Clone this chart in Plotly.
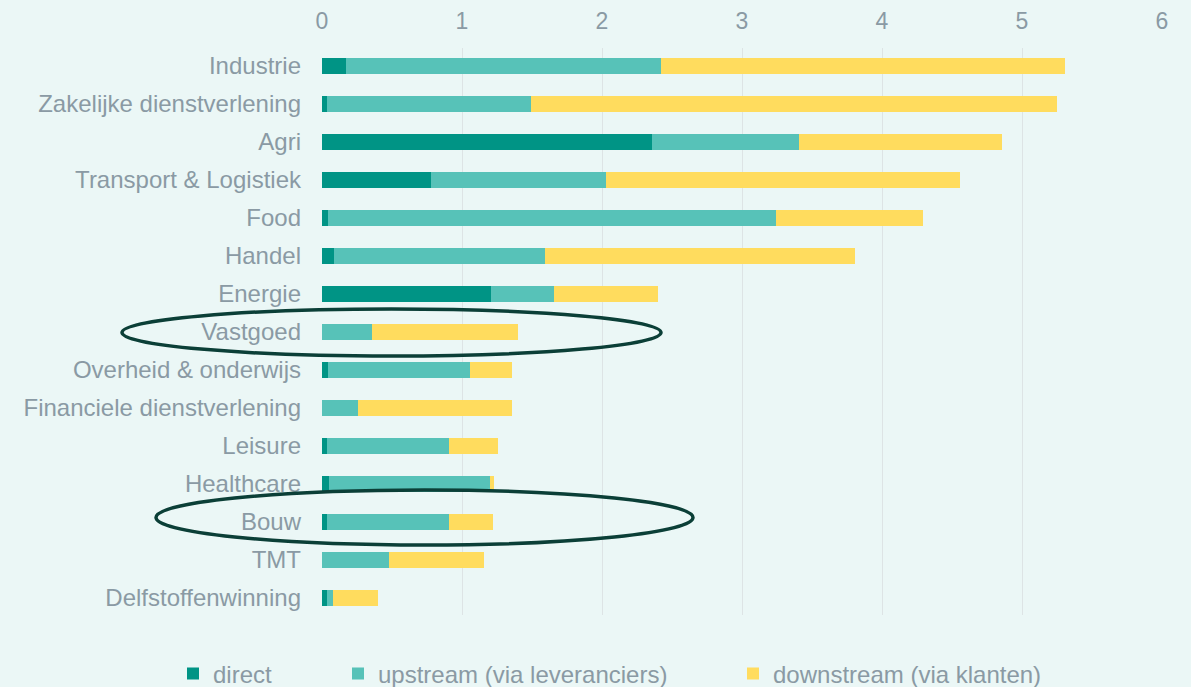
import plotly.graph_objects as go

# sectors, top to bottom
sectors = [
    "Industrie", "Zakelijke dienstverlening", "Agri", "Transport & Logistiek",
    "Food", "Handel", "Energie", "Vastgoed", "Overheid & onderwijs",
    "Financiele dienstverlening", "Leisure", "Healthcare", "Bouw", "TMT",
    "Delfstoffenwinning",
]
direct = [0.17, 0.035, 2.36, 0.78, 0.04, 0.085, 1.21, 0.0, 0.04, 0.0, 0.035, 0.05, 0.035, 0.0, 0.035]
upstream = [2.25, 1.455, 1.05, 1.25, 3.20, 1.505, 0.45, 0.36, 1.02, 0.26, 0.875, 1.15, 0.875, 0.48, 0.045]
downstream = [2.89, 3.76, 1.45, 2.53, 1.05, 2.22, 0.74, 1.04, 0.30, 1.10, 0.35, 0.03, 0.31, 0.68, 0.32]

BG = "#ebf7f6"
TEXT = "#8a9aa4"
C_DIRECT = "#009485"
C_UP = "#57c2b8"
C_DOWN = "#ffdc5e"
RING = "#0b3f37"
FONT = "Liberation Sans, Arial, sans-serif"

W, H = 1191, 687
M = dict(l=322, r=29, t=48, b=72)

series = [
    ("direct", direct, C_DIRECT, "legend", 190),
    ("upstream (via leveranciers)", upstream, C_UP, "legend2", 355),
    ("downstream (via klanten)", downstream, C_DOWN, "legend3", 750),
]

fig = go.Figure()
for name, vals, color, leg, _ in series:
    fig.add_trace(go.Bar(
        y=sectors, x=vals, name=name, orientation="h",
        marker=dict(color=color, line=dict(width=0)),
        width=0.42, legend=leg,
    ))

# three separate legends so each entry sits where the original has it
legend_base = dict(
    orientation="h", xref="container", yref="container",
    y=(H - 674) / H, yanchor="middle", xanchor="left",
    bgcolor="rgba(0,0,0,0)", font=dict(size=24, color=TEXT, family=FONT),
    itemwidth=30,
)
layout_legends = {}
for name, _, _, leg, xpx in series:
    layout_legends[leg] = dict(legend_base, x=(xpx - 17) / W)

# highlight rings around Vastgoed and Bouw (pixel boxes -> paper coords)
pw = W - M["l"] - M["r"]
ph = H - M["t"] - M["b"]
rings_px = [(122, 661, 309, 356), (156, 693, 490, 545)]
for x0, x1, y0, y1 in rings_px:
    fig.add_shape(
        type="circle", xref="paper", yref="paper",
        x0=(x0 - M["l"]) / pw, x1=(x1 - M["l"]) / pw,
        y0=(H - M["b"] - y1) / ph, y1=(H - M["b"] - y0) / ph,
        line=dict(color=RING, width=3.5), layer="above",
    )

fig.update_layout(
    barmode="stack",
    width=W, height=H,
    paper_bgcolor=BG, plot_bgcolor=BG,
    font=dict(family=FONT, size=24, color=TEXT),
    margin=M,
    showlegend=True,
    **layout_legends,
    xaxis=dict(
        side="top", range=[0, 6], dtick=1, showgrid=True,
        gridcolor="#dde4e5", gridwidth=1, zeroline=False,
        showline=False, ticks="", tickfont=dict(size=23, color=TEXT),
        ticklabelstandoff=13, automargin=False,
    ),
    yaxis=dict(
        showgrid=False, zeroline=False,
        showline=False, ticks="", tickfont=dict(size=24, color=TEXT),
        ticklabelstandoff=20, range=[14.45, -0.47], automargin=False,
    ),
)

fig.write_html(
    "out.html",
    config={"displayModeBar": False},
    post_script="document.body.style.margin='0';",
)
